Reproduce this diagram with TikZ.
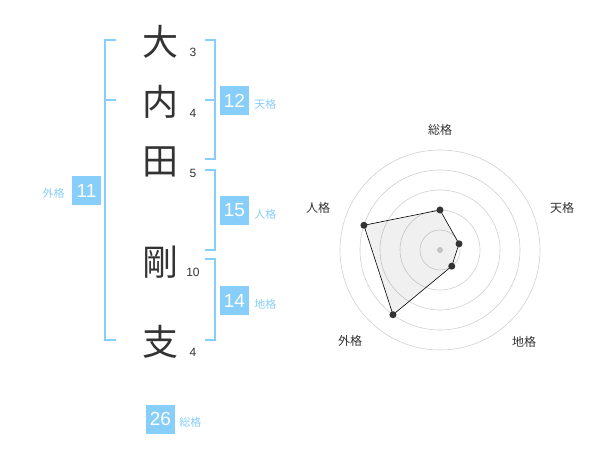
\documentclass[tikz,border=0pt]{standalone}
\usepackage{fontspec}
\setmainfont{Liberation Sans}
\newfontfamily\jpfont{Noto Sans CJK JP}
\usetikzlibrary{positioning}
\definecolor{skyline}{RGB}{135,206,250}
\definecolor{ink}{RGB}{51,51,51}
\definecolor{ring}{RGB}{208,208,208}
\tikzset{%
      kanji/.style = { font=\jpfont\fontsize{36}{36}\selectfont, text=ink, inner sep=0pt },
    strokes/.style = { font=\fontsize{12}{12}\selectfont, text=ink, inner sep=0pt },
    bracket/.style = { draw=skyline, line width=2pt },
   scorebox/.style = { fill=skyline, text=white, minimum size=29pt, inner sep=0pt, font=\fontsize{19}{19}\selectfont },
  scorename/.style = { text=skyline, font=\jpfont\fontsize{11}{11}\selectfont, inner sep=0pt },
  axislabel/.style = { text=ink, font=\jpfont\fontsize{12}{12}\selectfont, inner sep=0pt },
      point/.style = { circle, fill=ink, inner sep=0pt, minimum size=7pt }
}
\begin{document}
\begin{tikzpicture}[x=1pt,y=1pt,line cap=butt,line join=miter]
\useasboundingbox (0,0) rectangle (600,-470);
% name column
\node[kanji] (k1) at (160,-41.7) {大};
\node[kanji] (k2) at (160,-101.7) {内};
\node[kanji] (k3) at (160,-161.7) {田};
\node[kanji] (k4) at (160,-261.7) {剛};
\node[kanji] (k5) at (160,-341.7) {支};
\node[strokes] (s1) at (193,-52.7) {3};
\node[strokes] (s2) at (193,-113.3) {4};
\node[strokes] (s3) at (193,-173.3) {5};
\node[strokes] (s4) at (193,-272.7) {10};
\node[strokes] (s5) at (193,-352.7) {4};
% brackets
\draw[bracket] (116,-40) -- (105,-40) -- (105,-340) -- (116,-340);
\draw[bracket] (105,-100) -- (116,-100);
\draw[bracket] (205,-40) -- (215,-40) -- (215,-159) -- (205,-159);
\draw[bracket] (205,-100) -- (215,-100);
\draw[bracket] (205,-170) -- (215,-170) -- (215,-250) -- (205,-250);
\draw[bracket] (205,-259) -- (215,-259) -- (215,-340) -- (205,-340);
% scores
\node[scorebox] (gai) at (86.5,-190.5) {11};
\node[scorebox] (ten) at (234.5,-100.5) {12};
\node[scorebox] (jin) at (234.5,-210.5) {15};
\node[scorebox] (chi) at (234.5,-300.5) {14};
\node[scorebox] (sou) at (160.5,-419) {26};
\node[scorename, left=7pt of gai, yshift=-3pt] (gainame) {外格};
\node[scorename, right=5pt of ten, yshift=-3.5pt] (tenname) {天格};
\node[scorename, right=5pt of jin, yshift=-3.5pt] (jinname) {人格};
\node[scorename, right=5pt of chi, yshift=-3.5pt] (chiname) {地格};
\node[scorename, right=4pt of sou, yshift=-3.5pt] (souname) {総格};
% radar
\begin{scope}[shift={(440,-250)}]
\foreach \r in {20,40,...,100} \draw[ring, line width=0.6pt] (0,0) circle (\r);
\fill[ring] (0,0) circle (3);
\coordinate (pSou) at (90:40);
\coordinate (pTen) at (18:20);
\coordinate (pChi) at (-54:20);
\coordinate (pGai) at (-126:80);
\coordinate (pJin) at (162:80);
\filldraw[fill=black, fill opacity=0.06, draw=black, line width=0.6pt]
  (pSou) -- (pTen) -- (pChi) -- (pGai) -- (pJin) -- cycle;
\foreach \p in {pSou,pTen,pChi,pGai,pJin} \node[point] at (\p) {};
\end{scope}
\node[axislabel] (aSou) at (440,-130) {総格};
\node[axislabel] (aTen) at (562,-208) {天格};
\node[axislabel] (aJin) at (318,-208) {人格};
\node[axislabel] (aGai) at (350,-341) {外格};
\node[axislabel] (aChi) at (524,-342) {地格};
\end{tikzpicture}
\end{document}
